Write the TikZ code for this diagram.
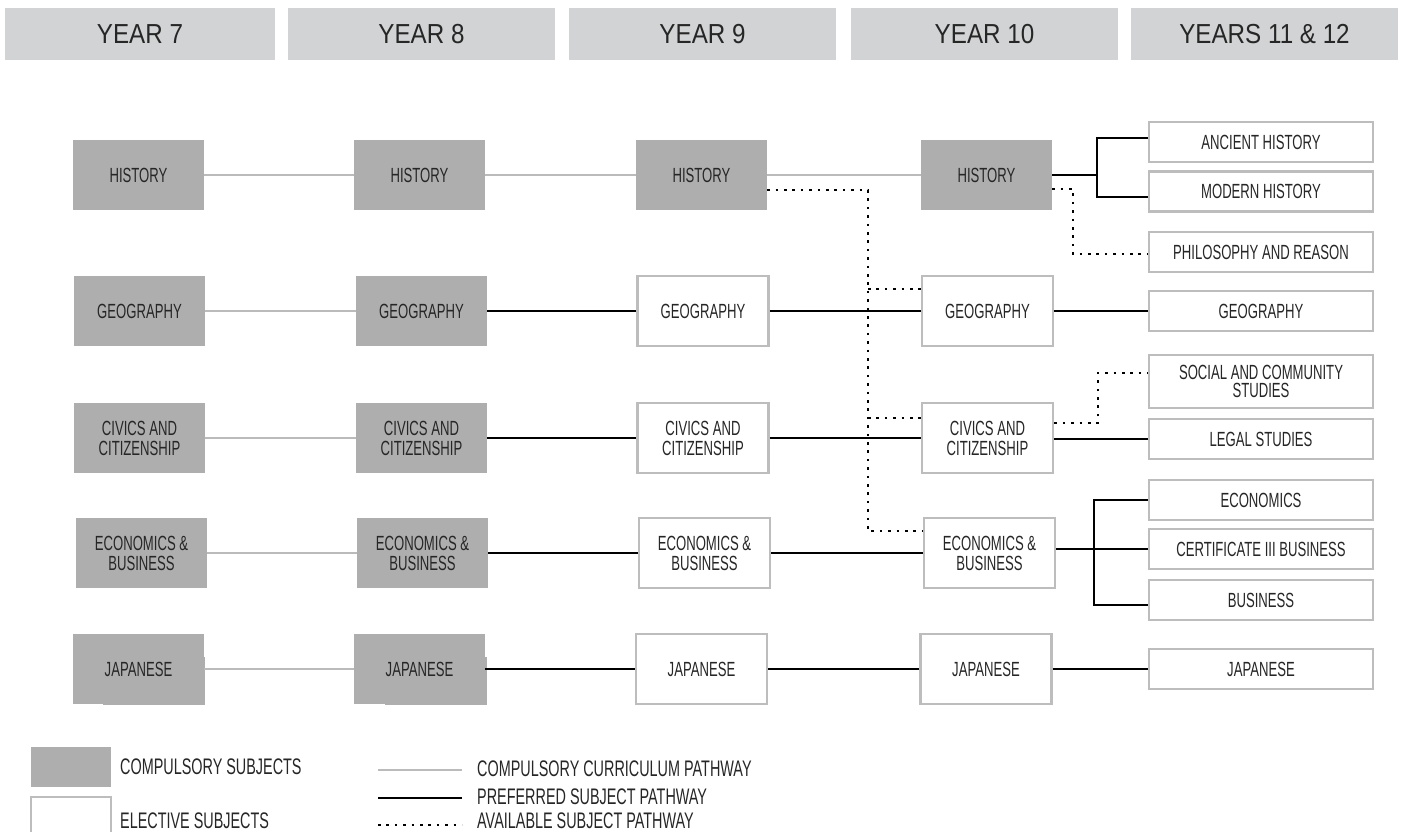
\documentclass[tikz,border=0pt]{standalone}
\usepackage{fontspec}
\setmainfont{Liberation Sans}
\newfontfamily\boxfont[FakeStretch=0.64]{Liberation Sans}
\newfontfamily\headfont[FakeStretch=0.88]{Liberation Sans}

\definecolor{ink}{HTML}{262626}
\definecolor{headfill}{HTML}{D1D3D4}
\definecolor{compfill}{HTML}{AEAEAE}
\definecolor{elecline}{HTML}{BDBDBD}
\definecolor{pathgray}{HTML}{BBBBBB}

\tikzset{
  subj/.style={font=\boxfont\fontsize{20.5}{20}\selectfont, text=ink, align=center,
    inner sep=0pt, minimum width=131pt, minimum height=70pt},
  comp/.style={subj, fill=compfill},
  elec/.style={subj, draw=elecline, line width=2.6pt, fill=white},
  senior/.style={elec, minimum width=224pt, minimum height=40pt},
  yearbar/.style={fill=headfill, inner sep=0pt, minimum height=52pt,
    font=\headfont\fontsize{27.5}{27}\selectfont, text=ink},
  cpath/.style={draw=pathgray, line width=2.8pt},
  ppath/.style={draw=black, line width=2.7pt},
  apath/.style={draw=black, line width=2.6pt, dash pattern=on 2.6pt off 5.8pt},
  legtext/.style={font=\boxfont\fontsize{22.5}{22}\selectfont, text=ink, anchor=west, inner sep=0pt},
}

\begin{document}
\begin{tikzpicture}[x=1pt, y=-1pt]
\useasboundingbox (0,0) rectangle (1407,831);

% year headings
\node[yearbar, minimum width=270pt] (yr7)  at (140,34)    {YEAR 7};
\node[yearbar, minimum width=267pt] (yr8)  at (421.5,34)  {YEAR 8};
\node[yearbar, minimum width=267pt] (yr9)  at (702.5,34)  {YEAR 9};
\node[yearbar, minimum width=267pt] (yr10) at (984.5,34)  {YEAR 10};
\node[yearbar, minimum width=267pt] (yr11) at (1264.5,34) {YEARS 11 \& 12};

% year 7 (compulsory)
\node[comp] (h7) at (138.5,175) {HISTORY};
\node[comp] (g7) at (139.5,311) {GEOGRAPHY};
\node[comp] (c7) at (139.5,438) {CIVICS AND\\CITIZENSHIP};
\node[comp] (e7) at (141.5,553) {ECONOMICS \&\\BUSINESS};
\fill[compfill] (103,657) rectangle (205,705);
\node[comp] (j7) at (138.5,669) {JAPANESE};

% year 8 (compulsory)
\node[comp] (h8) at (419.5,175) {HISTORY};
\node[comp] (g8) at (421.5,311) {GEOGRAPHY};
\node[comp] (c8) at (421.5,438) {CIVICS AND\\CITIZENSHIP};
\node[comp] (e8) at (422.5,553) {ECONOMICS \&\\BUSINESS};
\fill[compfill] (385,657) rectangle (487,705);
\node[comp] (j8) at (419.5,669) {JAPANESE};

% year 9
\node[comp] (h9) at (701.5,175) {HISTORY};
\node[elec] (g9) at (703,311)   {GEOGRAPHY};
\node[elec] (c9) at (703,438)   {CIVICS AND\\CITIZENSHIP};
\node[elec] (e9) at (704.5,553) {ECONOMICS \&\\BUSINESS};
\node[elec] (j9) at (701.5,669) {JAPANESE};

% year 10
\node[comp] (h10) at (986.5,175) {HISTORY};
\node[elec] (g10) at (987.5,311) {GEOGRAPHY};
\node[elec] (c10) at (987.5,438) {CIVICS AND\\CITIZENSHIP};
\node[elec] (e10) at (989.5,553) {ECONOMICS \&\\BUSINESS};
\node[elec] (j10) at (986,669)   {JAPANESE};

% years 11 & 12
\node[senior] (anc)  at (1261,142)   {ANCIENT HISTORY};
\node[senior] (mod)  at (1261,191.5) {MODERN HISTORY};
\node[senior] (phi)  at (1261,252)   {PHILOSOPHY AND REASON};
\node[senior] (g11)  at (1261,311)   {GEOGRAPHY};
\node[senior, minimum height=53pt, font=\boxfont\fontsize{20.5}{18.5}\selectfont]
             (soc)  at (1261,381.5) {SOCIAL AND COMMUNITY\\STUDIES};
\node[senior] (leg)  at (1261,439)   {LEGAL STUDIES};
\node[senior] (eco)  at (1261,500)   {ECONOMICS};
\node[senior] (cert) at (1261,549)   {CERTIFICATE III BUSINESS};
\node[senior] (bus)  at (1261,600)   {BUSINESS};
\node[senior] (j11)  at (1261,669)   {JAPANESE};

% compulsory curriculum pathway
\foreach \a/\b in {h7/h8, g7/g8, c7/c8, e7/e8, j7/j8, h8/h9, h9/h10}
  \draw[cpath] (\a) -- (\b);

% preferred subject pathway
\foreach \a/\b in {g8/g9, c8/c9, e8/e9, j8/j9, g9/g10, c9/c10, e9/e10, j9/j10, g10/g11, j10/j11}
  \draw[ppath] (\a) -- (\b);
\draw[ppath] (c10.east |- leg) -- (leg.west);

\coordinate (hk) at (1097,175);
\draw[ppath] (h10.east) -- (hk);
\draw[ppath] ([yshift=4pt]anc.west) -| (hk) |- ([yshift=-5.5pt]mod.west);

\coordinate (ek) at (1094,549);
\draw[ppath] (e10.east |- cert) -- (cert.west);
\draw[ppath] (eco.west) -| (ek) |- ([yshift=-5pt]bus.west);

% available subject pathway
\coordinate (dtop) at (868,190);
\coordinate (dbot) at (868,531);
\draw[apath] ([yshift=-15pt]h9.east) -- (dtop) -- (dbot) -- (dbot -| e10.west);
\coordinate (gd) at ([yshift=22pt]g10.west);
\coordinate (cd) at ([yshift=20pt]c10.west);
\draw[apath] (gd -| dtop) -- (gd);
\draw[apath] (cd -| dtop) -- (cd);

\coordinate (p1) at ([yshift=-14pt]h10.east);
\coordinate (pk) at (1073,254);
\draw[apath] (p1) -| (pk) -- (pk -| phi.west);

\coordinate (s1) at ([yshift=15pt]c10.east);
\coordinate (sk) at (1098,373);
\draw[apath] (s1) -| (sk) -- (sk -| soc.west);

% legend
\node[fill=compfill, minimum width=80pt, minimum height=40pt, inner sep=0pt] (lgc) at (71,767) {};
\node[legtext] (lgct) at (120,767) {COMPULSORY SUBJECTS};
\node[draw=elecline, line width=2.6pt, minimum width=80pt, minimum height=40pt, inner sep=0pt] (lge) at (71,817) {};
\node[legtext] (lget) at (120,821) {ELECTIVE SUBJECTS};

\coordinate (la1) at (378,770); \coordinate (lb1) at (462,770);
\coordinate (la2) at (378,798); \coordinate (lb2) at (462,798);
\coordinate (la3) at (378,825); \coordinate (lb3) at (462,825);
\draw[cpath] (la1) -- (lb1);
\draw[ppath] (la2) -- (lb2);
\draw[apath] (la3) -- (lb3);
\node[legtext] (lt1) at (477,769) {COMPULSORY CURRICULUM PATHWAY};
\node[legtext] (lt2) at (477,797) {PREFERRED SUBJECT PATHWAY};
\node[legtext] (lt3) at (477,821) {AVAILABLE SUBJECT PATHWAY};
\end{tikzpicture}
\end{document}
